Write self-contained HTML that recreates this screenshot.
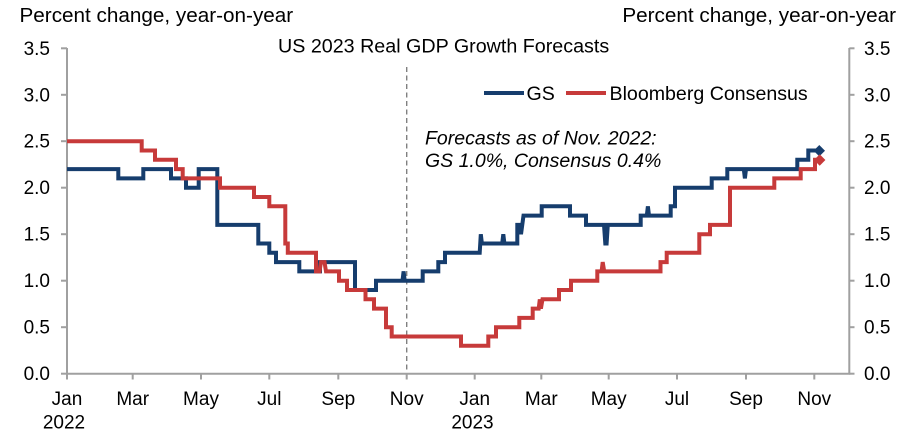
<!DOCTYPE html>
<html>
<head>
<meta charset="utf-8">
<style>
  html, body { margin: 0; padding: 0; background: #ffffff; }
  body { width: 916px; height: 438px; overflow: hidden; }
  svg { display: block; font-family: "Liberation Sans", Arial, sans-serif; }
  text { fill: #000; }
</style>
</head>
<body>
<svg width="916" height="438" viewBox="0 0 916 438" xmlns="http://www.w3.org/2000/svg">
  <text x="19.5" y="22" font-size="20.7">Percent change, year-on-year</text>
  <text x="896" y="22" font-size="20.7" text-anchor="end">Percent change, year-on-year</text>
  <text x="278" y="52.5" font-size="19.7">US 2023 Real GDP Growth Forecasts</text>

  <g stroke="#a0a0a0" stroke-width="2" fill="none">
    <line x1="67" y1="48" x2="67" y2="374.5"/>
    <line x1="849.3" y1="48" x2="849.3" y2="374.5"/>
    <line x1="66" y1="373.7" x2="850.3" y2="373.7"/>
    <line x1="61" y1="48.3" x2="67" y2="48.3"/>
    <line x1="61" y1="94.8" x2="67" y2="94.8"/>
    <line x1="61" y1="141.2" x2="67" y2="141.2"/>
    <line x1="61" y1="187.7" x2="67" y2="187.7"/>
    <line x1="61" y1="234.2" x2="67" y2="234.2"/>
    <line x1="61" y1="280.7" x2="67" y2="280.7"/>
    <line x1="61" y1="327.2" x2="67" y2="327.2"/>
    <line x1="61" y1="373.7" x2="67" y2="373.7"/>
    <line x1="849.3" y1="48.3" x2="854.5" y2="48.3"/>
    <line x1="849.3" y1="94.8" x2="854.5" y2="94.8"/>
    <line x1="849.3" y1="141.2" x2="854.5" y2="141.2"/>
    <line x1="849.3" y1="187.7" x2="854.5" y2="187.7"/>
    <line x1="849.3" y1="234.2" x2="854.5" y2="234.2"/>
    <line x1="849.3" y1="280.7" x2="854.5" y2="280.7"/>
    <line x1="849.3" y1="327.2" x2="854.5" y2="327.2"/>
    <line x1="849.3" y1="373.7" x2="854.5" y2="373.7"/>
    <line x1="67" y1="373.7" x2="67" y2="379.5"/>
    <line x1="132.7" y1="373.7" x2="132.7" y2="379.5"/>
    <line x1="201" y1="373.7" x2="201" y2="379.5"/>
    <line x1="269.3" y1="373.7" x2="269.3" y2="379.5"/>
    <line x1="338.3" y1="373.7" x2="338.3" y2="379.5"/>
    <line x1="406.7" y1="373.7" x2="406.7" y2="379.5"/>
    <line x1="474.7" y1="373.7" x2="474.7" y2="379.5"/>
    <line x1="541.3" y1="373.7" x2="541.3" y2="379.5"/>
    <line x1="608.7" y1="373.7" x2="608.7" y2="379.5"/>
    <line x1="677" y1="373.7" x2="677" y2="379.5"/>
    <line x1="746" y1="373.7" x2="746" y2="379.5"/>
    <line x1="814.3" y1="373.7" x2="814.3" y2="379.5"/>
  </g>

  <line x1="406.7" y1="67" x2="406.7" y2="373" stroke="#808080" stroke-width="1.4" stroke-dasharray="5,3.5"/>

  <g font-size="19" text-anchor="end">
    <text x="50" y="54.8">3.5</text>
    <text x="50" y="101.3">3.0</text>
    <text x="50" y="147.7">2.5</text>
    <text x="50" y="194.2">2.0</text>
    <text x="50" y="240.7">1.5</text>
    <text x="50" y="287.2">1.0</text>
    <text x="50" y="333.7">0.5</text>
    <text x="50" y="380.2">0.0</text>
  </g>
  <g font-size="19" text-anchor="start">
    <text x="864" y="54.8">3.5</text>
    <text x="864" y="101.3">3.0</text>
    <text x="864" y="147.7">2.5</text>
    <text x="864" y="194.2">2.0</text>
    <text x="864" y="240.7">1.5</text>
    <text x="864" y="287.2">1.0</text>
    <text x="864" y="333.7">0.5</text>
    <text x="864" y="380.2">0.0</text>
  </g>
  <g font-size="19" text-anchor="middle">
    <text x="67" y="405">Jan</text>
    <text x="132.7" y="405">Mar</text>
    <text x="201" y="405">May</text>
    <text x="269.3" y="405">Jul</text>
    <text x="338.3" y="405">Sep</text>
    <text x="406.7" y="405">Nov</text>
    <text x="474.7" y="405">Jan</text>
    <text x="541.3" y="405">Mar</text>
    <text x="608.7" y="405">May</text>
    <text x="677" y="405">Jul</text>
    <text x="746" y="405">Sep</text>
    <text x="814.3" y="405">Nov</text>
    <text x="64" y="428.3">2022</text>
    <text x="472.5" y="428.3">2023</text>
  </g>

  <g font-size="19.5" font-style="italic">
    <text x="425" y="144.5">Forecasts as of Nov. 2022:</text>
    <text x="425" y="167">GS 1.0%, Consensus 0.4%</text>
  </g>

  <line x1="484" y1="93" x2="524" y2="93" stroke="#163d6d" stroke-width="4"/>
  <text x="526.5" y="100" font-size="19.6">GS</text>
  <line x1="566" y1="93" x2="606" y2="93" stroke="#c73a3a" stroke-width="4"/>
  <text x="609.5" y="100" font-size="19.6">Bloomberg Consensus</text>

  <path fill="none" stroke="#163d6d" stroke-width="4" stroke-linejoin="miter" stroke-miterlimit="3" stroke-linecap="butt"
    d="M 67 169.1 H 118.3 V 178.4 H 143.3 V 169.1 H 171 V 178.4 H 186 V 187.7 H 198.7 V 169.1 H 217.3 V 224.9 H 258.3 V 243.5 H 269.3 V 252.8 H 276 V 262.1 H 299.3 V 271.4 H 320 V 262.1 H 355 V 290.0 H 376 V 280.7 H 402.5 L 403.6 271.4 L 404.7 280.7 H 422.7 V 271.4 H 438.3 V 262.1 H 445 V 252.8 H 479.7 L 480.8 234.2 L 481.9 243.5 H 502.2 L 503.3 234.2 L 504.4 243.5 H 517.3 V 224.9 H 519.5 L 521 234.2 L 523.5 215.6 H 541.7 V 206.3 H 570 V 215.6 H 586 V 224.9 H 604 L 605.3 243.5 L 606.6 243.5 L 607.8 224.9 H 640.7 V 215.6 H 646.8 L 647.9 206.3 L 649 215.6 H 670.7 V 206.3 H 675 V 187.7 H 711.7 V 178.4 H 727.3 V 169.1 H 743.8 L 744.9 178.4 L 746 169.1 H 797.3 V 159.8 H 808.3 V 150.5 H 818.5"/>

  <path fill="none" stroke="#c73a3a" stroke-width="4" stroke-linejoin="miter" stroke-miterlimit="3" stroke-linecap="butt"
    d="M 67 141.2 H 141.7 V 150.5 H 155 V 159.8 H 176 V 169.1 H 182.7 V 178.4 H 220 V 187.7 H 254 V 197.0 H 269.3 V 206.3 H 285.3 V 243.5 H 287.8 V 252.8 H 316 V 271.4 H 319.5 L 321 262.1 H 324.5 L 326 271.4 H 339 V 280.7 H 347 V 290.0 H 365.5 V 299.3 H 374 V 308.6 H 386 V 327.2 H 391.7 V 336.5 H 461 V 345.8 H 488.3 V 336.5 H 496 V 327.2 H 519.3 V 317.9 H 532.7 V 308.6 H 538.7 L 539.8 299.3 L 540.9 308.6 L 542.5 299.3 H 559 V 290.0 H 571 V 280.7 H 597.3 V 271.4 H 601.6 L 602.7 262.1 L 604.2 271.4 H 660.5 V 262.1 H 666.7 V 252.8 H 699.3 V 234.2 H 710 V 224.9 H 730 V 187.7 H 774.3 V 178.4 H 800.7 V 169.1 H 815 V 159.8 H 819"/>

  <polygon points="819.3,145 825,150.7 819.3,156.4 813.6,150.7" fill="#163d6d"/>
  <polygon points="819.7,154.3 825.4,160 819.7,165.7 814,160" fill="#c73a3a"/>
</svg>
</body>
</html>
